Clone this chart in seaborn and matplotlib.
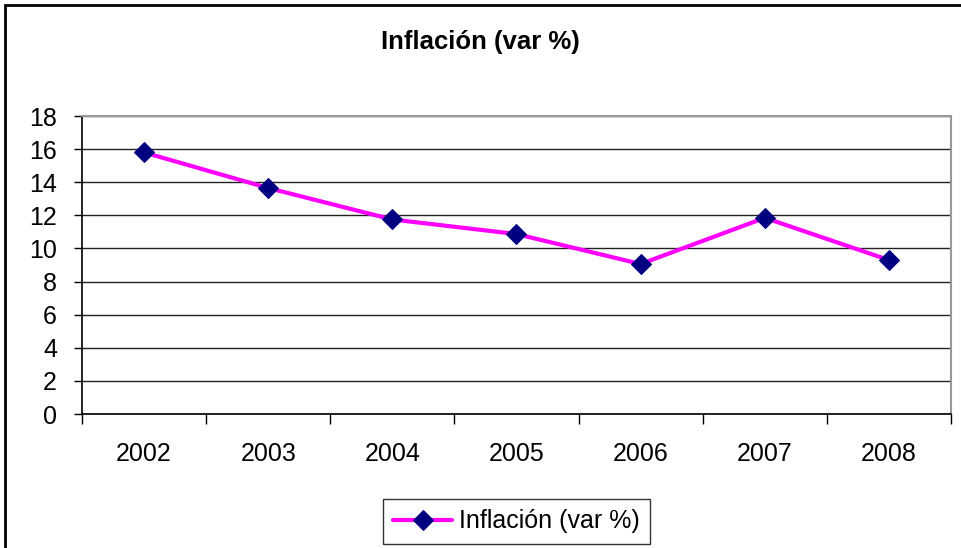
import matplotlib
matplotlib.use("Agg")
import matplotlib.pyplot as plt
from matplotlib.patches import Rectangle
from matplotlib.ticker import FixedLocator
import seaborn as sns
import pandas as pd

# datos
years = ["2002", "2003", "2004", "2005", "2006", "2007", "2008"]
inflation = [15.8, 13.65, 11.75, 10.87, 9.06, 11.85, 9.3]
series_name = "Inflación (var %)"

df = pd.DataFrame({"year": years, "value": inflation})

sns.set_theme(style="white")
plt.rcParams['font.family'] = ['Liberation Sans', 'DejaVu Sans']
plt.rcParams['text.color'] = "black"

fig = plt.figure(figsize=(9.61, 5.48), dpi=100)
ax = fig.add_axes([0.0853, 0.2445, 0.9043, 0.5438])

sns.lineplot(data=df, x="year", y="value", ax=ax, color="#FF00FF", linewidth=3,
             marker="D", markersize=10, markerfacecolor="#000080",
             markeredgecolor="#000080", label=series_name, sort=False)

ax.set_ylim(0, 18)
ax.set_xlim(-0.5, len(years) - 0.5)
ax.set_yticks(range(0, 19, 2))
ax.yaxis.grid(True, color="#222222", linewidth=1)
ax.set_axisbelow(True)
ax.set_xlabel("")
ax.set_ylabel("")

# marcas del eje x entre categorias
ax.set_xticks(range(len(years)))
ax.set_xticklabels(years)
ax.xaxis.set_minor_locator(FixedLocator([i - 0.5 for i in range(len(years) + 1)]))
ax.tick_params(axis="x", which="major", length=0, pad=20, labelsize=18, colors="black")
ax.tick_params(axis="x", which="minor", length=7, width=1, color="black", direction="out", bottom=True)
ax.tick_params(axis="y", length=6, width=1, color="black", direction="out", left=True,
               pad=12, labelsize=18, colors="black")

for side in ["left", "bottom"]:
    ax.spines[side].set_color("black")
    ax.spines[side].set_linewidth(1.2)
for side in ["top", "right"]:
    ax.spines[side].set_color("#999999")
    ax.spines[side].set_linewidth(1.5)

fig.text(0.5, 0.924, series_name, ha="center", va="center", fontsize=18.5,
         fontweight="bold", color="black")

leg = ax.legend(loc="center", bbox_to_anchor=(0.5, -0.36), fontsize=18, frameon=True,
                fancybox=False, edgecolor="black", handlelength=2.35, borderpad=0.42,
                handletextpad=0.28, borderaxespad=0)
leg.get_frame().set_linewidth(1)
for t in leg.get_texts():
    t.set_color("black")

fig.patches.append(Rectangle((5 / 961, -0.1), 1.2, 1 - 5 / 548 + 0.1, transform=fig.transFigure,
                             fill=False, edgecolor="black", linewidth=2))

fig.savefig("out.png", dpi=100)
